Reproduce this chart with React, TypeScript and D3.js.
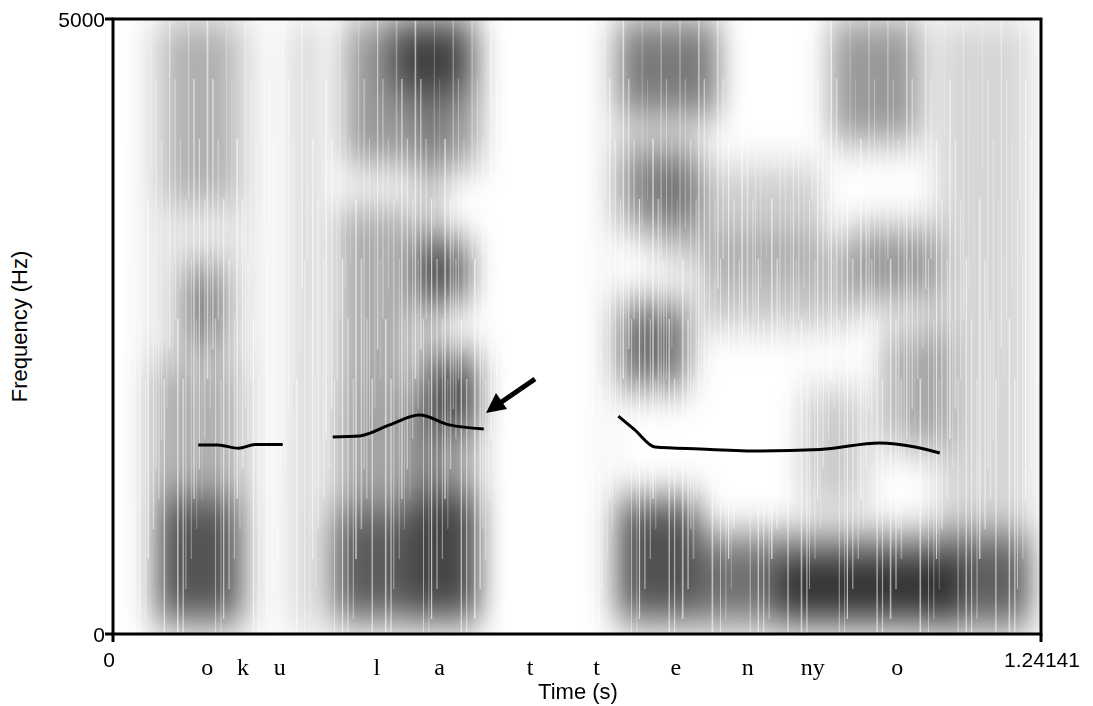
import * as d3 from 'd3';

const tMax = 1.24141;
const fMax = 5000;

// spectral energy regions: [t0, t1, f0, f1, darkness]
const blobT0 = [0.06, 0.05, 0.096, 0.07, 0.237, 0.294, 0.404, 0.3, 0.424, 0.404, 0.3, 0.31, 0.37, 0.41, 0.659, 0.676, 0.785, 0.89, 0.676, 0.676, 0.676, 0.785, 0.92, 0.986, 0.96, 1.03, 1.1, 0.72, 0.04];
const blobT1 = [0.17, 0.17, 0.15, 0.163, 0.277, 0.41, 0.49, 0.49, 0.49, 0.478, 0.4, 0.49, 0.478, 0.44, 0.662, 0.785, 1.227, 1.13, 0.77, 0.785, 0.81, 0.99, 1.01, 1.106, 1.08, 1.12, 1.227, 0.95, 0.2];
const blobF0 = [100, 1100, 2300, 3500, 0, 100, 100, 1000, 1700, 2700, 2000, 3800, 4400, 1000, 100, 100, 80, 100, 2000, 3300, 4200, 2500, 1000, 2700, 4000, 1500, 0, 3000, 0];
const blobF1 = [1100, 2200, 3000, 5000, 5000, 1000, 1100, 2000, 2300, 3200, 3500, 5000, 5000, 5000, 5000, 1100, 800, 600, 2700, 4000, 5000, 3200, 2000, 3300, 5000, 2500, 5000, 3800, 5000];
const blobV = [0.8, 0.3, 0.55, 0.3, 0.2, 0.8, 0.9, 0.45, 0.75, 0.8, 0.4, 0.5, 0.65, 0.35, 0.5, 0.85, 0.7, 0.75, 0.7, 0.55, 0.65, 0.3, 0.25, 0.5, 0.5, 0.4, 0.2, 0.25, 0.12];

// pitch contour pieces
const p1T = [0.114, 0.14, 0.168, 0.19, 0.227];
const p1F = [1537, 1537, 1510, 1540, 1540];
const p2T = [0.294, 0.33, 0.37, 0.41, 0.45, 0.496];
const p2F = [1602, 1610, 1700, 1780, 1700, 1667];
const p3T = [0.676, 0.698, 0.725, 0.785, 0.866, 0.946, 1.026, 1.073, 1.106];
const p3F = [1772, 1659, 1520, 1504, 1488, 1500, 1553, 1520, 1472];

const segLabels = ['o', 'k', 'u', 'l', 'a', 't', 't', 'e', 'n', 'ny', 'o'];
const segTimes = [0.126, 0.174, 0.223, 0.353, 0.437, 0.558, 0.647, 0.753, 0.849, 0.936, 1.049];

const W = 1093, H = 706;
const L = 113, R = 1041, T = 19, B = 634;

export default function App() {
  const x = d3.scaleLinear().domain([0, tMax]).range([L, R]);
  const y = d3.scaleLinear().domain([0, fMax]).range([B, T]);
  const line = d3.line<[number, number]>().x(d => x(d[0])).y(d => y(d[1])).curve(d3.curveMonotoneX);
  const pieces = [[p1T, p1F], [p2T, p2F], [p3T, p3F]].map(([ts, fs]) => ts.map((t, i) => [t, fs[i]] as [number, number]));
  const stripes = d3.range(L, R, 2.7);
  return (
    <svg width={W} height={H} style={{ position: 'absolute', left: 0, top: 0 }}>
      <defs>
        <filter id="bl" x="-20%" y="-20%" width="140%" height="140%">
          <feGaussianBlur stdDeviation="14 20" />
        </filter>
        <clipPath id="cp"><rect x={L} y={T} width={R - L} height={B - T} /></clipPath>
      </defs>
      <rect width={W} height={H} fill="white" />
      <g clipPath="url(#cp)">
        <g filter="url(#bl)">
          {blobV.map((v, i) => (
            <rect key={i} x={x(blobT0[i])} y={y(blobF1[i])} width={x(blobT1[i]) - x(blobT0[i])}
              height={y(blobF0[i]) - y(blobF1[i])} fill="black" opacity={v * 0.8} />
          ))}
        </g>
        {stripes.map((sx, i) => {
          const k = (i * 37) % 11;
          const y0 = T + ((i * 53) % 7) * 60;
          return (
            <line key={i} x1={sx} x2={sx} y1={y0} y2={y0 + 120 + k * 30} stroke="white"
              strokeWidth={0.8 + (k % 3) * 0.4} opacity={0.25 + k * 0.04} />
          );
        })}
      </g>
      {pieces.map((p, i) => (
        <path key={i} d={line(p) || ''} fill="none" stroke="black" strokeWidth={3} />
      ))}
      <line x1={535} y1={379} x2={500} y2={403} stroke="black" strokeWidth={5} />
      <polygon points="486,413 496,393 507,409" fill="black" />
      <rect x={L} y={T} width={R - L} height={B - T} fill="none" stroke="black" strokeWidth={3} />
      <g fontFamily="Liberation Sans, Arial, sans-serif" fontSize={21} fill="black">
        <line x1={L - 8} x2={L} y1={T} y2={T} stroke="black" strokeWidth={3} />
        <line x1={L - 8} x2={L} y1={B} y2={B} stroke="black" strokeWidth={3} />
        <line x1={L} x2={L} y1={B} y2={B + 8} stroke="black" strokeWidth={3} />
        <line x1={R} x2={R} y1={B} y2={B + 8} stroke="black" strokeWidth={3} />
        <text x={L - 8} y={T + 8} textAnchor="end">5000</text>
        <text x={L - 8} y={B + 8} textAnchor="end">0</text>
        <text x={L - 4} y={B + 33} textAnchor="middle">0</text>
        <text x={R + 1} y={B + 33} textAnchor="middle">1.24141</text>
        <text x={578} y={B + 65} textAnchor="middle" fontSize={22}>Time (s)</text>
        <text transform={`translate(${27},${(T + B) / 2}) rotate(-90)`} textAnchor="middle" fontSize={22}>Frequency (Hz)</text>
      </g>
      <g fontFamily="Liberation Serif, Times New Roman, serif" fontSize={24} fill="black">
        {segLabels.map((s, i) => (
          <text key={i} x={x(segTimes[i])} y={B + 41} textAnchor="middle">{s}</text>
        ))}
      </g>
    </svg>
  );
}
